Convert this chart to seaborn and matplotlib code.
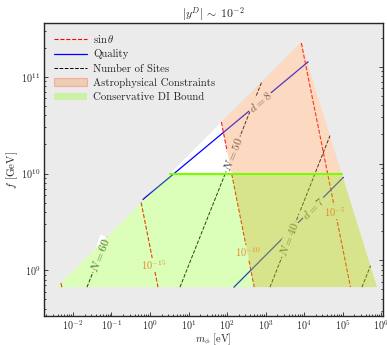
import numpy as np
import pandas as pd
import matplotlib
matplotlib.use("Agg")
import matplotlib.pyplot as plt
import seaborn as sns
from matplotlib.lines import Line2D
from matplotlib.patches import Patch
import matplotlib.ticker as mticker

# ---------------- data (log10 m [eV], log10 f [GeV]) ----------------
allowed_logm = [-2.416, 3.922, 5.896]
allowed_logf = [8.825, 11.36, 8.825]

di_logm = [-2.416, 0.52, 4.98, 5.896]
di_logf = [8.825, 10.0, 10.0, 8.825]

astro_logm = [1.854, 3.922, 5.896, 2.708]
astro_logf = [10.533, 11.36, 8.825, 8.825]

sin_logm = [[-2.313, -2.29], [-0.23, 0.2075], [1.854, 2.708], [3.93, 5.2075]]
sin_logf = [[8.866, 8.825], [9.70, 8.825], [10.533, 8.825], [11.35, 8.825]]
sin_labels = [None, r"$10^{-15}$", r"$10^{-10}$", r"$10^{-5}$"]
sin_label_logm = [None, 0.10, 2.53, 4.80]
sin_label_logf = [None, 9.052, 9.186, 9.60]

quality_logm = [[-0.182, 4.104], [2.182, 5.02]]
quality_logf = [[9.732, 11.155], [8.825, 9.96]]
quality_labels = [r"$d = 8$", r"$d = 7$"]
quality_label_logm = [2.857, 4.234]
quality_label_logf = [10.741, 9.646]

sites_logm = [[-1.636, -1.116], [0.779, 2.909], [3.117, 4.675], [5.506, 5.726]]
sites_logf = [[8.825, 9.345], [8.825, 10.955], [8.825, 10.392], [8.825, 9.045]]
sites_labels = [r"$N = 60$", r"$N = 50$", r"$N = 40$", None]
sites_label_logm = [-1.30, 2.156, 3.61, None]
sites_label_logf = [9.161, 10.202, 9.318, None]

x_tick_exponents = [-2, -1, 0, 1, 2, 3, 4, 5, 6]
y_tick_exponents = [9, 10, 11]

xlim_log = (-2.753, 6.052)
ylim_log = (8.526, 11.557)
right_axis_shift = -0.103

# ---------------- style ----------------
sns.set_style("ticks")
plt.rcParams.update({
    "font.family": "serif",
    "font.serif": ["cmr10", "DejaVu Serif"],
    "mathtext.fontset": "cm",
    "axes.formatter.use_mathtext": True,
    "axes.unicode_minus": False,
    "font.size": 7.5,
})

fig = plt.figure(figsize=(3.87, 3.45), dpi=100)
ax = fig.add_axes([0.1137, 0.0841, 0.876, 0.849])
ax.set_xscale("log")
ax.set_yscale("log")
ax.set_xlim(10 ** xlim_log[0], 10 ** xlim_log[1])
ax.set_ylim(10 ** ylim_log[0], 10 ** ylim_log[1])
ax.set_facecolor("#ebebeb")

def P(v):
    return 10 ** np.asarray(v, dtype=float)

# allowed region (white)
ax.fill(P(allowed_logm), P(allowed_logf), color="white", lw=0, zorder=0.5)

def draw_line(lm, lf, color, ls, lw, z=1.5):
    df = pd.DataFrame({"m": P(lm), "f": P(lf)})
    sns.lineplot(data=df, x="m", y="f", ax=ax, sort=False, estimator=None,
                 color=color, linestyle=ls, linewidth=lw, legend=False, zorder=z)

for lm, lf in zip(sin_logm, sin_logf):
    draw_line(lm, lf, "red", "--", 0.8)
for lm, lf in zip(quality_logm, quality_logf):
    draw_line(lm, lf, "blue", "-", 0.9)
for lm, lf in zip(sites_logm, sites_logf):
    draw_line(lm, lf, "black", "--", 0.7)

def screen_angle(lm, lf):
    p = ax.transData.transform(np.column_stack([P(lm), P(lf)]))
    ang = np.degrees(np.arctan2(p[1, 1] - p[0, 1], p[1, 0] - p[0, 0]))
    if ang > 90:
        ang -= 180
    if ang < -90:
        ang += 180
    return ang

# inline labels (N, d) under the fills
inline = []
for lab, x, y, lm, lf in zip(sites_labels, sites_label_logm, sites_label_logf, sites_logm, sites_logf):
    if lab:
        inline.append((lab, x, y, screen_angle(lm, lf)))
for lab, x, y, lm, lf in zip(quality_labels, quality_label_logm, quality_label_logf, quality_logm, quality_logf):
    inline.append((lab, x, y, screen_angle(lm, lf)))
for lab, x, y, ang in inline:
    ax.text(10 ** x, 10 ** y, lab, rotation=ang, ha="center", va="center", color="none",
            fontsize=8.5, rotation_mode="anchor", zorder=2.4,
            bbox=dict(facecolor="white", edgecolor="none", pad=0.5))
for lab, x, y, ang in inline:
    ax.text(10 ** x, 10 ** y, lab, rotation=ang, ha="center", va="center", color="#454545",
            fontsize=8.5, rotation_mode="anchor", zorder=2.6)

# sin theta label boxes under fills
for lab, x, y in zip(sin_labels, sin_label_logm, sin_label_logf):
    if lab:
        ax.text(10 ** x, 10 ** y, lab, ha="center", va="center", color="none", fontsize=7.5,
                zorder=2.4, bbox=dict(facecolor="white", edgecolor="none", pad=0.3))

# fills
astro_face = (0.96, 0.59, 0.31, 0.35)
di_face = (0.50, 1.0, 0.0, 0.28)
ax.fill(P(astro_logm), P(astro_logf), color=astro_face, lw=0, zorder=3)
ax.fill(P(di_logm), P(di_logf), color=di_face, lw=0, zorder=3.1)
# DI bound top line
draw_line(di_logm[1:3], di_logf[1:3], "#7cfc00", "-", 1.5, z=4)

for lab, x, y in zip(sin_labels, sin_label_logm, sin_label_logf):
    if lab:
        ax.text(10 ** x, 10 ** y, lab, ha="center", va="center", color="#e38a32",
                fontsize=7.5, zorder=5)

# axes / ticks
ax.xaxis.set_major_locator(mticker.FixedLocator(P(x_tick_exponents)))
ax.xaxis.set_major_formatter(mticker.LogFormatterSciNotation())
ax.xaxis.set_minor_locator(mticker.LogLocator(base=10, subs=np.arange(2, 10), numticks=20))
ax.xaxis.set_minor_formatter(mticker.NullFormatter())
ax.yaxis.set_major_locator(mticker.FixedLocator(P(y_tick_exponents)))
ax.yaxis.set_major_formatter(mticker.LogFormatterSciNotation())
ax.yaxis.set_minor_formatter(mticker.NullFormatter())
ax.tick_params(which="both", direction="in", top=False, right=False, labelsize=7.3, width=0.6)
ax.tick_params(axis="x", pad=1.5)
ax.tick_params(axis="y", pad=2.5)
ax.tick_params(which="major", length=3.2)
ax.tick_params(which="minor", length=1.6)
for s in ax.spines.values():
    s.set_linewidth(0.9)
    s.set_color("black")

ax2 = ax.twinx()
ax2.set_yscale("log")
ax2.set_ylim(10 ** (ylim_log[0] + right_axis_shift), 10 ** (ylim_log[1] + right_axis_shift))
ax2.tick_params(which="both", direction="in", labelright=False, width=0.6)
ax2.tick_params(which="major", length=3.2)
ax2.tick_params(which="minor", length=1.6)
ax2.yaxis.set_minor_formatter(mticker.NullFormatter())

ax.set_xlabel(r"$m_\phi$ [eV]", fontsize=7.5, labelpad=0.3)
ax.set_ylabel(r"$f$ [GeV]", fontsize=8, labelpad=1)
ax.set_title(r"$|y^D|\,\sim\;10^{-2}$", fontsize=8.5, pad=4)

handles = [
    Line2D([], [], color="red", ls="--", lw=0.8),
    Line2D([], [], color="blue", ls="-", lw=0.9),
    Line2D([], [], color="black", ls="--", lw=0.7),
    Patch(facecolor=astro_face, edgecolor=(1.0, 0.3, 0.3, 0.35), lw=0.8),
    Patch(facecolor=di_face, edgecolor="none"),
]
labels = [r"$\sin\theta$", "Quality", "Number of Sites", "Astrophysical Constraints",
          "Conservative DI Bound"]
leg = ax.legend(handles, labels, loc="upper left", frameon=False, fontsize=7.8,
                handlelength=3.1, handletextpad=0.55, labelspacing=0.42,
                borderaxespad=0.5, borderpad=0.4)
leg.set_zorder(6)

fig.savefig("out.png", dpi=100)
